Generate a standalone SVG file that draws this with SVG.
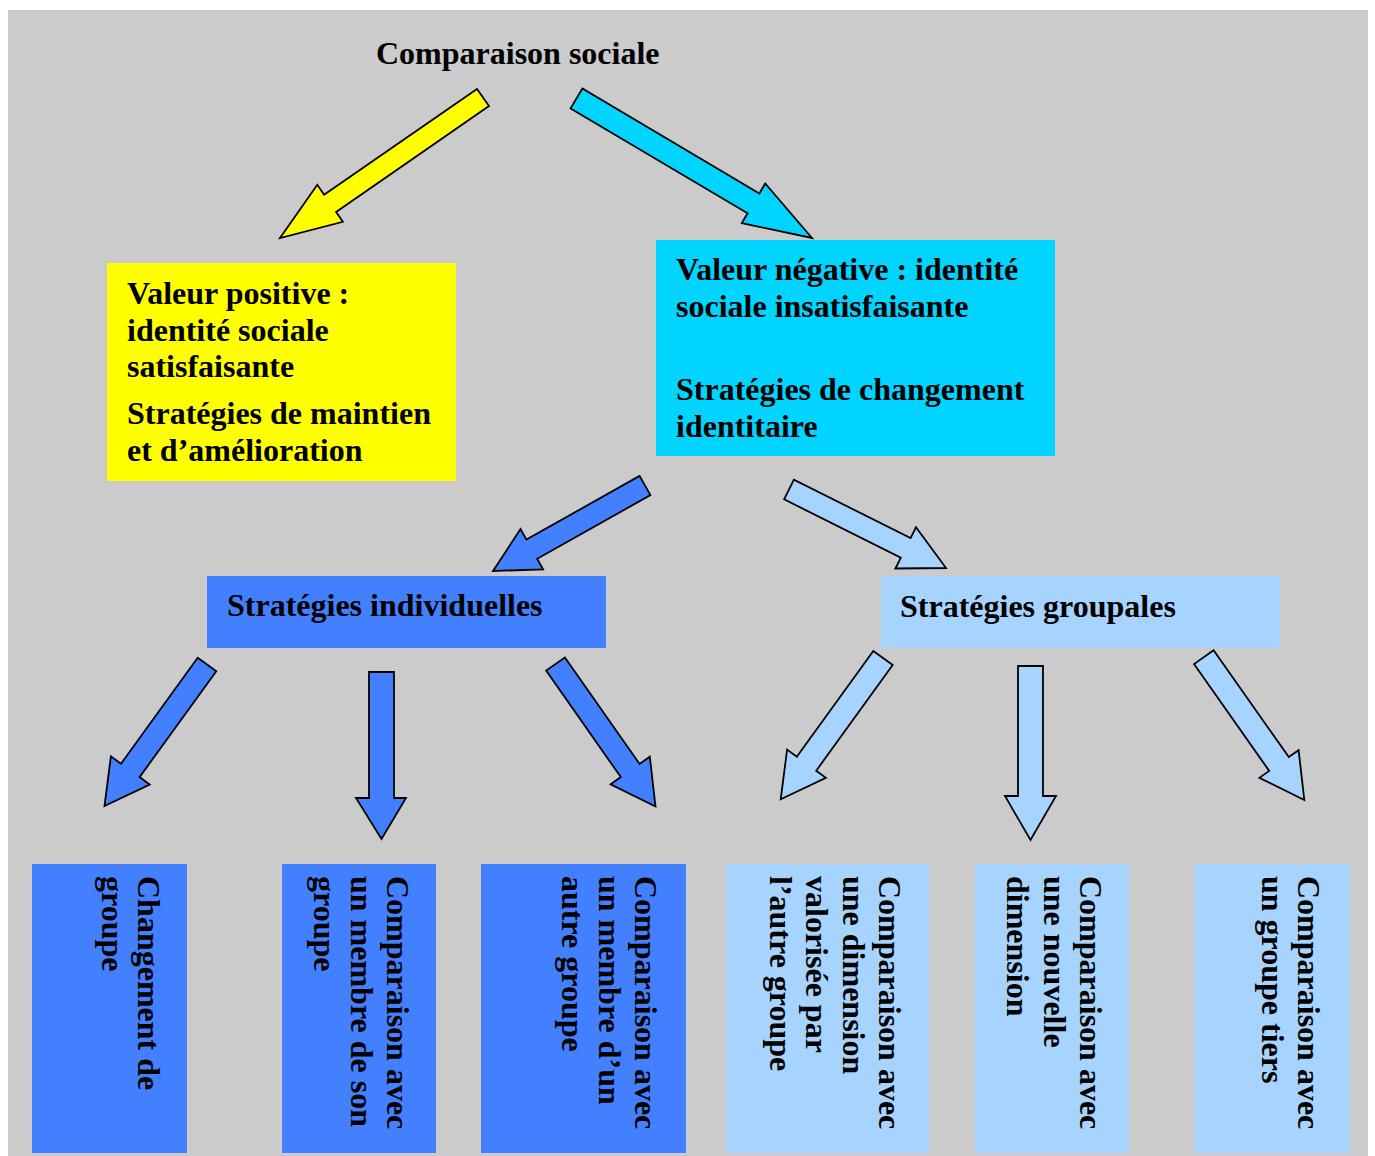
<svg xmlns="http://www.w3.org/2000/svg" width="1375" height="1156" viewBox="0 0 1375 1156">
<style>
  .t { font-family: "Liberation Serif", "Times New Roman", serif; font-weight: bold; font-size: 32px; fill: #000; }
  .arr { stroke: #000; stroke-width: 1.8; stroke-linejoin: miter; }
  .yel { fill: #ffff00; }
  .cya { fill: #00d4ff; }
  .blu { fill: #4380ff; }
  .lbl { fill: #a6d4ff; }
</style>
<rect x="0" y="0" width="1375" height="1156" fill="#ffffff"/>
<rect x="8" y="10" width="1360" height="1146" fill="#cbcbcb"/>

<g id="title">
  <text class="t" x="376" y="63.5">Comparaison sociale</text>
</g>

<g id="node-positive">
  <rect class="yel" x="107" y="263" width="349" height="218"/>
  <text class="t" x="127" y="303.5">Valeur positive :</text>
  <text class="t" x="127" y="340.5">identité sociale</text>
  <text class="t" x="127" y="376.5">satisfaisante</text>
  <text class="t" x="127" y="423.5">Stratégies de maintien</text>
  <text class="t" x="127" y="460.5">et d’amélioration</text>
</g>

<g id="node-negative">
  <rect class="cya" x="656" y="240" width="399" height="216"/>
  <text class="t" x="676" y="279.5">Valeur négative : identité</text>
  <text class="t" x="676" y="316.5">sociale insatisfaisante</text>
  <text class="t" x="676" y="399.5">Stratégies de changement</text>
  <text class="t" x="676" y="436.5">identitaire</text>
</g>

<g id="node-individuelles">
  <rect class="blu" x="207" y="576" width="399" height="72"/>
  <text class="t" x="227" y="615.5">Stratégies individuelles</text>
</g>

<g id="node-groupales">
  <rect class="lbl" x="881" y="576" width="399" height="72"/>
  <text class="t" x="900" y="616.5">Stratégies groupales</text>
</g>

<g id="node-changement">
  <rect class="blu" x="32" y="864" width="155" height="289"/>
  <text class="t" transform="translate(138,876) rotate(90)"><tspan x="0" y="0">Changement de</tspan><tspan x="0" y="36.5">groupe</tspan></text>
</g>

<g id="node-membre-son">
  <rect class="blu" x="282" y="864" width="154" height="289"/>
  <text class="t" transform="translate(387,876) rotate(90)"><tspan x="0" y="0">Comparaison avec</tspan><tspan x="0" y="36.5">un membre de son</tspan><tspan x="0" y="73">groupe</tspan></text>
</g>

<g id="node-membre-autre">
  <rect class="blu" x="481" y="864" width="205" height="289"/>
  <text class="t" transform="translate(635,876) rotate(90)"><tspan x="0" y="0">Comparaison avec</tspan><tspan x="0" y="36.5">un membre d’un</tspan><tspan x="0" y="73">autre groupe</tspan></text>
</g>

<g id="node-dimension-valorisee">
  <rect class="lbl" x="726" y="864" width="203" height="289"/>
  <text class="t" transform="translate(879,876) rotate(90)"><tspan x="0" y="0">Comparaison avec</tspan><tspan x="0" y="36.5">une dimension</tspan><tspan x="0" y="73">valorisée par</tspan><tspan x="0" y="109.5">l’autre groupe</tspan></text>
</g>

<g id="node-nouvelle-dimension">
  <rect class="lbl" x="975" y="864" width="154" height="289"/>
  <text class="t" transform="translate(1080,876) rotate(90)"><tspan x="0" y="0">Comparaison avec</tspan><tspan x="0" y="36.5">une nouvelle</tspan><tspan x="0" y="73">dimension</tspan></text>
</g>

<g id="node-groupe-tiers">
  <rect class="lbl" x="1195" y="864" width="155" height="289"/>
  <text class="t" transform="translate(1298,876) rotate(90)"><tspan x="0" y="0">Comparaison avec</tspan><tspan x="0" y="36.5">un groupe tiers</tspan></text>
</g>

<g id="connectors">
  <polygon class="arr yel" points="477,89 324.1,194.7 317.3,184.8 280,238 342.9,221.8 336.1,211.9 489,106.1"/>
  <polygon class="arr cya" points="570.6,108.4 747.6,213.2 741.8,223.1 812,238 765.2,183.5 759.4,193.4 582.4,88.6"/>
  <polygon class="arr blu" points="639.6,475.9 526.4,539.6 520.5,529.1 493,571 543.1,569.3 537.2,558.8 650.4,495.1"/>
  <polygon class="arr lbl" points="784.1,499.3 900.8,557.7 895.4,568.5 946,568 916,527.3 910.6,538.1 793.9,479.7"/>
  <polygon class="arr blu" points="197.7,657.8 121,763.7 110.9,756.3 104.5,806 149.7,784.5 139.6,777.1 216.3,671.2"/>
  <polygon class="arr blu" points="369,672 394,672 394,798 406,798 381.5,839 356,798 369,798"/>
  <polygon class="arr blu" points="546.1,670.6 620.8,777.1 610.6,784.3 655.5,806.5 649.8,756.7 639.6,763.9 564.9,657.4"/>
  <polygon class="arr lbl" points="873.3,651 796.8,756.7 787.1,749.6 780.7,799.3 825.9,777.8 816.2,770.7 892.7,665"/>
  <polygon class="arr lbl" points="1018,666 1043,666 1043,796 1056,796 1030.5,840 1005,796 1018,796"/>
  <polygon class="arr lbl" points="1194,664.1 1269.2,770.9 1259.4,777.8 1304.3,800 1298.6,750.2 1288.8,757.1 1213.6,650.3"/>
</g>
</svg>
